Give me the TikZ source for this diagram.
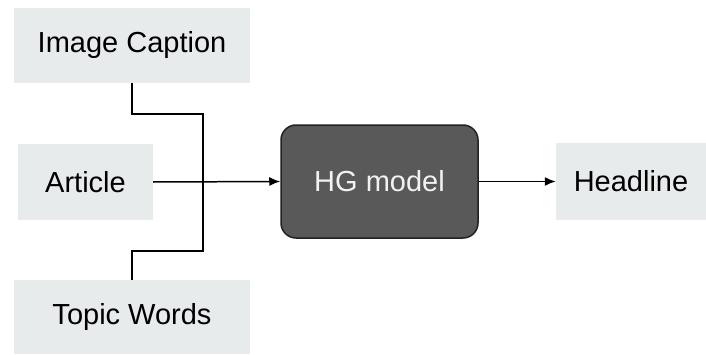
\documentclass[tikz,border=0pt]{standalone}
\usepackage{fontspec}
\setmainfont{Liberation Sans}
\usetikzlibrary{arrows.meta}
\definecolor{boxgray}{HTML}{E8EBEC}
\definecolor{modelgray}{HTML}{595959}
\definecolor{edgedark}{HTML}{222222}
\begin{document}
\begin{tikzpicture}[x=1pt,y=1pt,
  inbox/.style={fill=boxgray, draw=none, inner sep=0pt, font=\fontsize{29}{33}\selectfont},
  model/.style={fill=modelgray, draw=edgedark, line width=1.5pt, rounded corners=15pt,
    inner sep=0pt, text=white!95!black, font=\fontsize{29}{33}\selectfont},
  link/.style={draw=black, line width=1.5pt},
  flow/.style={link, -{Latex[length=11pt,width=9pt]}}]
  \useasboundingbox (0,0) rectangle (706,354);
  % input and output boxes
  \node[inbox, minimum width=236pt, minimum height=75pt] (cap) at (132,308.5) {Image Caption};
  \node[inbox, minimum width=135pt, minimum height=76pt] (art) at (85.5,172) {Article};
  \node[inbox, minimum width=236pt, minimum height=74pt] (top) at (132,37) {Topic Words};
  \node[inbox, minimum width=150pt, minimum height=77pt] (head) at (631,172.5) {Headline};
  % the model
  \node[model, minimum width=197pt, minimum height=113pt] (hg) at (379.5,172.5) {HG model};
  % bracket joining caption and topic words
  \coordinate (bt) at (203,240);
  \coordinate (bb) at (203,103);
  \draw[link] (cap.south) |- (bt) -- (bb) -| (top.north);
  % main flow
  \draw[flow] (art.east) -- (hg.west);
  \draw[flow] (hg.east) -- (head.west);
\end{tikzpicture}
\end{document}
